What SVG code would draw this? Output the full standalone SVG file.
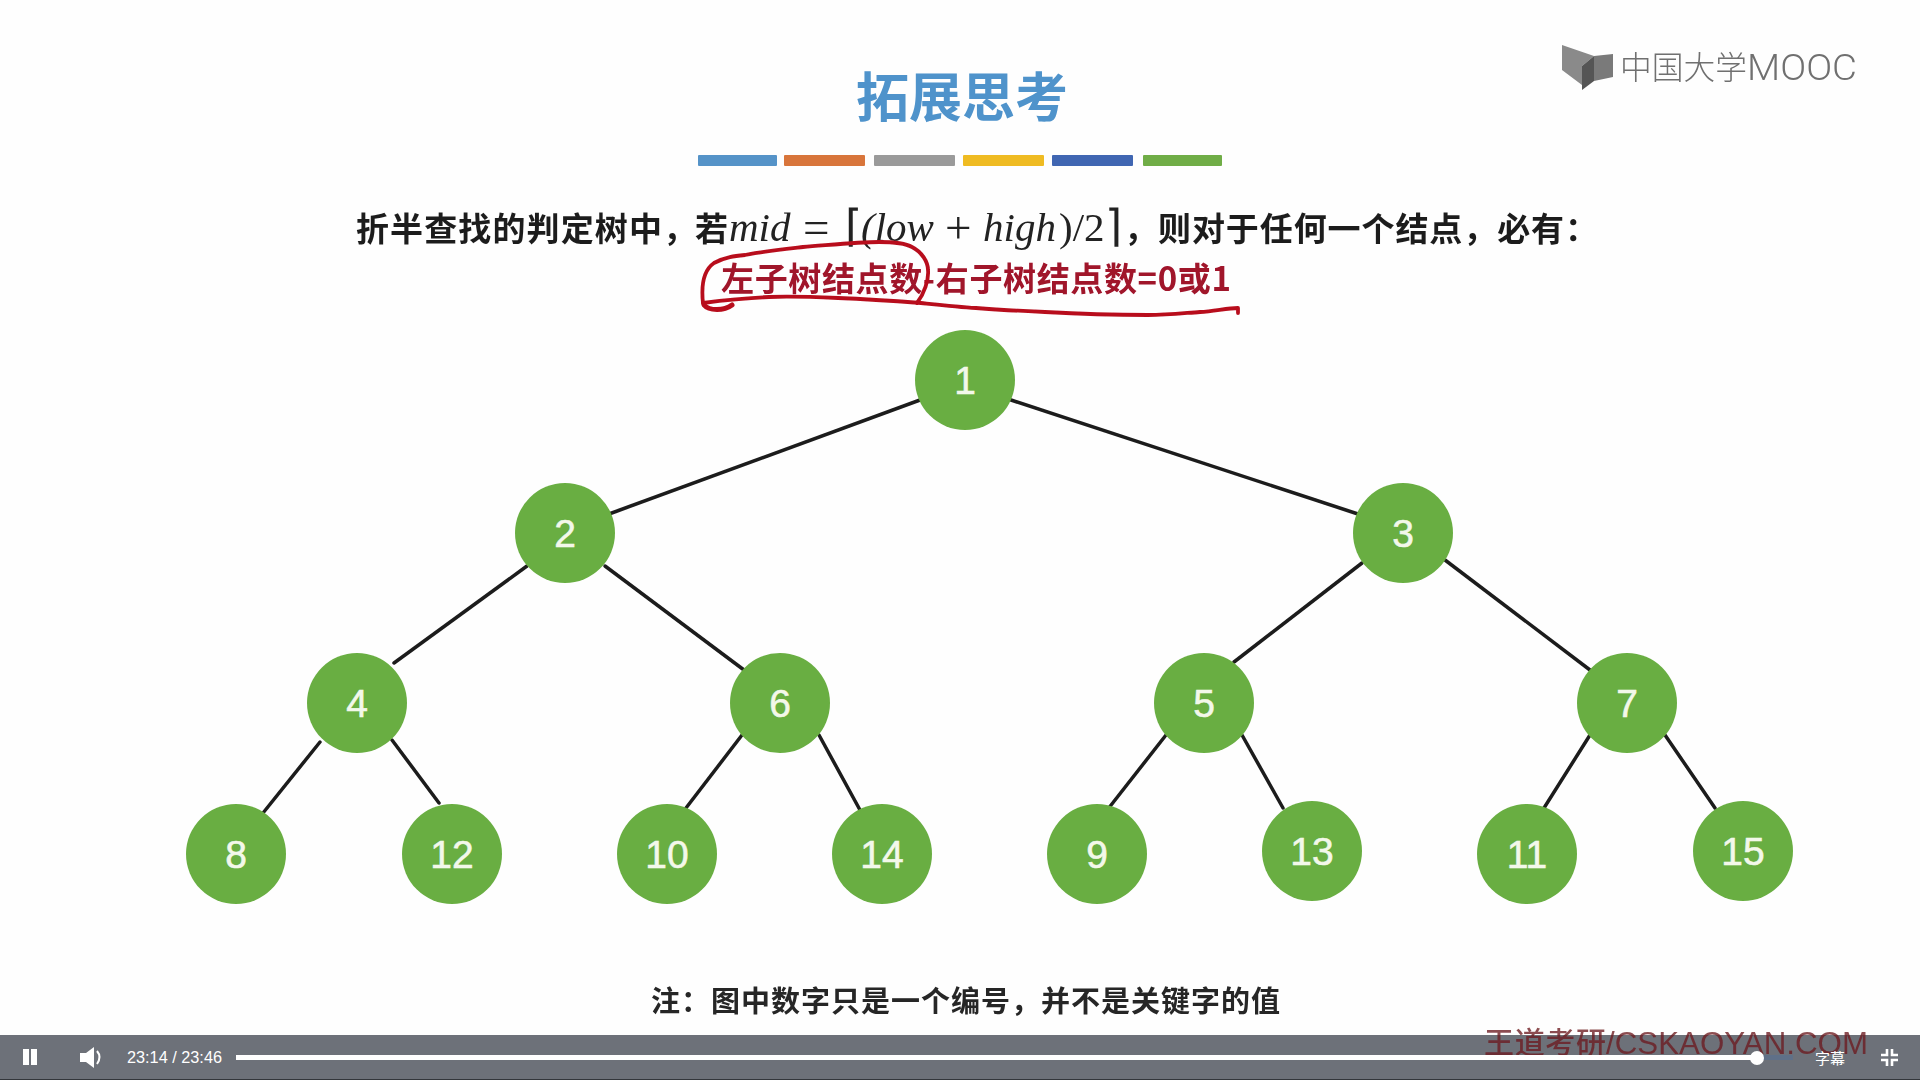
<svg xmlns="http://www.w3.org/2000/svg" width="1920" height="1080" viewBox="0 0 1920 1080">
<style>
.cjk{font-family:"Noto Sans CJK SC","Liberation Sans",sans-serif}
.b{font-weight:700}
.m{font-family:"Liberation Serif","Noto Sans CJK SC",serif;font-size:41px;fill:#222}
.m.big{font-size:47px}
.m.br{font-size:44px}
.i{font-style:italic}
.n circle{fill:#69ae42}
.n text{font-family:"Liberation Sans",sans-serif;font-size:39px;fill:#f3f8ea;stroke:#f3f8ea;stroke-width:.6;text-anchor:middle}
#edges line{stroke:#1c1c1c;stroke-width:3.5;stroke-linecap:round}
.ctl{fill:#fff}
</style>
<defs><filter id="s" x="-5%" y="-5%" width="110%" height="110%"><feGaussianBlur stdDeviation="0.7"/></filter></defs>
<rect width="1920" height="1080" fill="#fefefe"/>
<g id="heading" filter="url(#s)">
<text x="856" y="117" class="cjk b" font-size="53" fill="#4f93cb" textLength="212">拓展思考</text>
<rect x="698" y="155" width="79" height="11" rx="1" fill="#5593c8"/>
<rect x="784" y="155" width="81" height="11" rx="1" fill="#d8743a"/>
<rect x="874" y="155" width="81" height="11" rx="1" fill="#9a9a9a"/>
<rect x="963" y="155" width="81" height="11" rx="1" fill="#efbb20"/>
<rect x="1052" y="155" width="81" height="11" rx="1" fill="#3f66b2"/>
<rect x="1143" y="155" width="79" height="11" rx="1" fill="#70ad47"/>
</g>
<g id="statement" filter="url(#s)">
<text x="356" y="241" class="cjk b" font-size="33" fill="#1e1e1e" textLength="340">折半查找的判定树中，</text>
<text x="695" y="241" class="cjk b" font-size="33" fill="#1e1e1e">若</text>
<text x="729" y="241" class="m i">mid</text>
<text x="803" y="243" class="m big">=</text>
<text x="845" y="241" class="m br">⌈</text>
<text x="861" y="241" class="m i">(low</text>
<text x="945" y="243" class="m big">+</text>
<text x="983" y="241" class="m i">high</text>
<text x="1059" y="241" class="m">)/2</text>
<text x="1105" y="241" class="m br">⌉</text>
<text x="1124" y="241" class="cjk b" font-size="33" fill="#1e1e1e">，</text>
<text x="1158" y="241" class="cjk b" font-size="33" fill="#1e1e1e" textLength="440">则对于任何一个结点，必有：</text>
<text x="721" y="291" class="cjk b" font-size="33" fill="#a0122a" textLength="510">左子树结点数-右子树结点数=0或1</text>
</g>
<g id="annotation" fill="none" stroke="#b8101e" stroke-width="3.8" stroke-linecap="round" stroke-linejoin="round" filter="url(#s)">
<path d="M703 303C701 285 704 270 714 263C725 257 735 256 745 255C765 251 785 249 803 247C830 245 858 242 879 242C895 242 905 243 912 247C922 252 928 262 928 270C929 280 924 294 917 303"/>
<path d="M703 303C725 300 745 298 769 297C790 296 815 297 838 298C865 299 895 301 921 303C940 305 958 307 976 308C1000 310 1022 311 1045 312C1080 314 1115 315 1148 315C1168 315 1185 313 1200 312C1215 311 1228 308 1238 308L1238 313"/>
<path d="M704 305C709 311 724 311 732 305" stroke-width="5"/>
</g>
<g id="edges" filter="url(#s)">
<line x1="920" y1="400" x2="609" y2="514"/>
<line x1="1011" y1="400" x2="1358" y2="514"/>
<line x1="527" y1="566" x2="394" y2="663"/>
<line x1="605" y1="566" x2="744" y2="670"/>
<line x1="1362" y1="563" x2="1234" y2="662"/>
<line x1="1445" y1="560" x2="1590" y2="670"/>
<line x1="320" y1="742" x2="263" y2="813"/>
<line x1="392" y1="740" x2="439" y2="803"/>
<line x1="742" y1="735" x2="686" y2="808"/>
<line x1="819" y1="735" x2="860" y2="810"/>
<line x1="1166" y1="735" x2="1108" y2="809"/>
<line x1="1242" y1="735" x2="1283" y2="808"/>
<line x1="1590" y1="735" x2="1544" y2="808"/>
<line x1="1665" y1="735" x2="1715" y2="808"/>
</g>
<g id="n1" class="n"><circle cx="965" cy="380" r="50"/><text x="965" y="394">1</text></g>
<g id="n2" class="n"><circle cx="565" cy="533" r="50"/><text x="565" y="547">2</text></g>
<g id="n3" class="n"><circle cx="1403" cy="533" r="50"/><text x="1403" y="547">3</text></g>
<g id="n4" class="n"><circle cx="357" cy="703" r="50"/><text x="357" y="717">4</text></g>
<g id="n6" class="n"><circle cx="780" cy="703" r="50"/><text x="780" y="717">6</text></g>
<g id="n5" class="n"><circle cx="1204" cy="703" r="50"/><text x="1204" y="717">5</text></g>
<g id="n7" class="n"><circle cx="1627" cy="703" r="50"/><text x="1627" y="717">7</text></g>
<g id="n8" class="n"><circle cx="236" cy="854" r="50"/><text x="236" y="868">8</text></g>
<g id="n12" class="n"><circle cx="452" cy="854" r="50"/><text x="452" y="868">12</text></g>
<g id="n10" class="n"><circle cx="667" cy="854" r="50"/><text x="667" y="868">10</text></g>
<g id="n14" class="n"><circle cx="882" cy="854" r="50"/><text x="882" y="868">14</text></g>
<g id="n9" class="n"><circle cx="1097" cy="854" r="50"/><text x="1097" y="868">9</text></g>
<g id="n13" class="n"><circle cx="1312" cy="851" r="50"/><text x="1312" y="865">13</text></g>
<g id="n11" class="n"><circle cx="1527" cy="854" r="50"/><text x="1527" y="868">11</text></g>
<g id="n15" class="n"><circle cx="1743" cy="851" r="50"/><text x="1743" y="865">15</text></g>
<text id="note" x="651" y="1012" class="cjk b" font-size="29" fill="#262626" textLength="629" filter="url(#s)">注：图中数字只是一个编号，并不是关键字的值</text>
<g id="logo" filter="url(#s)">
<path d="M1562 45L1594 56L1582 66V85L1562 70Z" fill="#8a8a8a"/>
<path d="M1594 56L1613 54V77L1594 81Z" fill="#7a7a7a"/>
<path d="M1582 66L1594 56V81L1582 90Z" fill="#555"/>
<text x="1620" y="79" class="cjk" font-size="32" font-weight="300" fill="#707070" textLength="127" lengthAdjust="spacingAndGlyphs">中国大学</text>
<text x="1747" y="80" font-family="Roboto,sans-serif" font-weight="300" font-size="36" fill="#707070" textLength="110" lengthAdjust="spacingAndGlyphs">MOOC</text>
</g>
<g id="player-bar">
<rect y="1035" width="1920" height="45" fill="#6d7179"/>
<rect y="1079" width="1920" height="1" fill="#33363b"/>
</g>
<g id="watermark" fill="#6b1a1e" fill-opacity="0.78" filter="url(#s)">
<text x="1484" y="1053" class="cjk" font-weight="500" font-size="30" textLength="122">王道考研</text>
<text x="1606" y="1054" font-family="Liberation Sans,sans-serif" font-size="32" textLength="262" lengthAdjust="spacingAndGlyphs">/CSKAOYAN.COM</text>
</g>
<g id="player-controls">
<rect class="ctl" x="23" y="1049" width="6" height="16"/><rect class="ctl" x="31" y="1049" width="6" height="16"/>
<path class="ctl" d="M80 1053H86L94 1047V1068L86 1062H80Z"/>
<path d="M97 1051Q102 1057 97 1064" fill="none" stroke="#fff" stroke-width="2"/>
<text x="127" y="1063" font-family="Liberation Sans,sans-serif" font-size="16" fill="#fff" textLength="95" lengthAdjust="spacingAndGlyphs">23:14 / 23:46</text>
<rect class="ctl" x="236" y="1055" width="1521" height="5"/>
<rect x="1757" y="1055" width="36" height="5" fill="#5f7088"/>
<circle class="ctl" cx="1757" cy="1058" r="7"/>
<text x="1815" y="1064" class="cjk" font-size="15" fill="#fff">字幕</text>
<path d="M1887 1049V1055H1881M1892 1049V1055H1898M1887 1066V1060H1881M1892 1066V1060H1898" fill="none" stroke="#fff" stroke-width="2.6"/>
</g>
</svg>
